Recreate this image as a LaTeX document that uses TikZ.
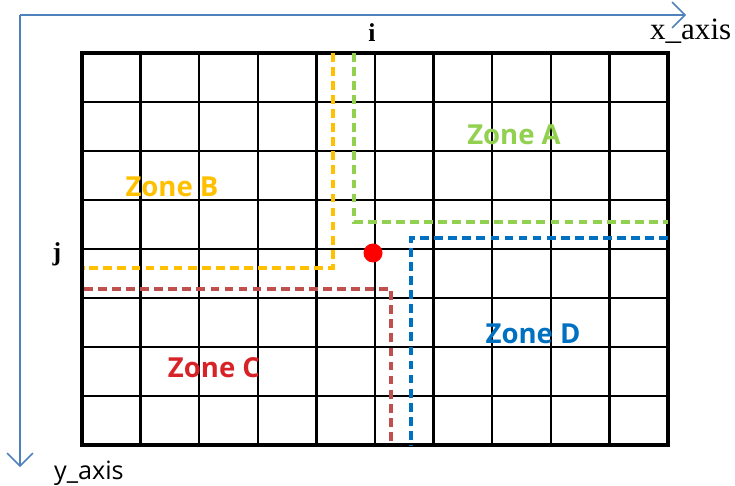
\documentclass[tikz,border=0pt]{standalone}
\usepackage{fontspec}
\newfontfamily\zonefont{Open Sans}
\newfontfamily\serffont{Liberation Serif}
\usetikzlibrary{arrows.meta}

\definecolor{axisblue}{RGB}{79,129,189}
\definecolor{zonegreen}{RGB}{146,208,80}
\definecolor{zoneyellow}{RGB}{255,192,0}
\definecolor{zonebrown}{RGB}{192,80,77}
\definecolor{zonered}{RGB}{215,35,40}
\definecolor{zoneblue}{RGB}{0,112,192}

\begin{document}
\begin{tikzpicture}[x=0.03cm,y=-0.03cm,
    gridline/.style={line width=2pt},
    zoneline/.style={line width=3.2pt,dash pattern=on 7.5pt off 4.5pt},
    zonelabel/.style={anchor=base,font=\zonefont\fontsize{23.5}{24}\selectfont\bfseries},
    axisline/.style={axisblue,line width=1.3pt,-{Straight Barb[length=11pt,width=22pt,line width=1.3pt]}}]
  \useasboundingbox (0,0) rectangle (735,486);

  % axes
  \coordinate (origin) at (20,15);
  \coordinate (xend) at (686,15);
  \coordinate (yend) at (20,467);
  \draw[axisline] (origin) -- (xend);
  \draw[axisline] (origin) -- (yend);
  \node[anchor=base west,font=\serffont\fontsize{26.5}{27}\selectfont] (xlabel) at (646,40) {x\_axis};
  \node[anchor=base west,font=\zonefont\fontsize{21.5}{22}\selectfont] (ylabel) at (50,479) {y\_axis};

  % grid, 10 x 8 cells
  \foreach \c in {1,...,9}
    \draw[gridline] ({82+58.6*\c},53) -- ({82+58.6*\c},445);
  \foreach \r in {1,...,7}
    \draw[gridline] (82,{53+49*\r}) -- (668,{53+49*\r});
  \draw[line width=4pt] (82,53) rectangle (668,445);

  \node[font=\serffont\fontsize{22}{23}\selectfont\bfseries] (ilabel) at (372,33) {i};
  \node[font=\serffont\fontsize{22}{23}\selectfont\bfseries] (jlabel) at (57,254) {j};

  % zone borders
  \draw[zoneline,zonegreen]  (354,53) -- (354,222) -- (668,222);
  \draw[zoneline,zoneyellow] (333,53) -- (333,268) -- (84,268);
  \draw[zoneline,zoneblue]   (668,238) -- (411,238) -- (411,445);
  \draw[zoneline,zonebrown]  (84,289) -- (391,289) -- (391,445);

  \fill[red] (373,253) circle (9.5);

  \node[zonelabel,zonegreen]  (zonea) at (514,145) {Zone A};
  \node[zonelabel,zoneyellow] (zoneb) at (172,197) {Zone B};
  \node[zonelabel,zonered]    (zonec) at (214,377) {Zone C};
  \node[zonelabel,zoneblue]   (zoned) at (533,343) {Zone D};
\end{tikzpicture}
\end{document}
